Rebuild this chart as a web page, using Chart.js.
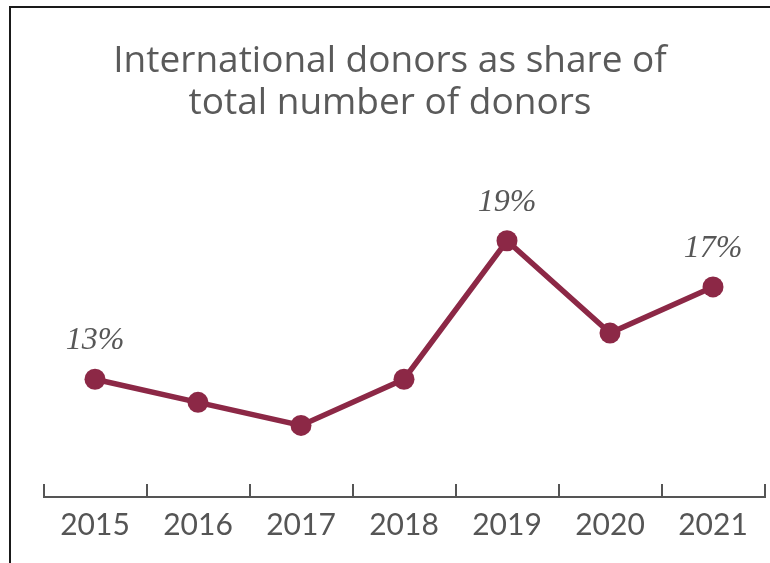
<!DOCTYPE html>
<html>
<head>
<meta charset="utf-8">
<script src="https://cdn.jsdelivr.net/npm/chart.js@4/dist/chart.umd.min.js"></script>
<style>
  html, body { margin: 0; padding: 0; background: #fff; overflow: hidden; }
  #wrap { position: relative; width: 770px; height: 563px; }
  #frame { position: absolute; left: 9px; top: 6px; width: 800px; height: 600px;
           border-top: 2px solid #1a1a1a; border-left: 2px solid #1a1a1a; pointer-events: none; }
  canvas { position: absolute; left: 0; top: 0; }
</style>
</head>
<body>
<div id="wrap">
  <canvas id="c" width="770" height="563"></canvas>
  <div id="frame"></div>
</div>
<script>
const years = ['2015', '2016', '2017', '2018', '2019', '2020', '2021'];
const sharePct = [13, 12, 11, 13, 19, 15, 17];
const pointLabels = ['13%', '', '', '', '19%', '', '17%'];
const titleLines = ['International donors as share of', 'total number of donors'];

const labelPlugin = {
  id: 'pointLabels',
  afterDatasetsDraw(chart) {
    const ctx = chart.ctx;
    const meta = chart.getDatasetMeta(0);
    ctx.save();
    ctx.font = 'italic 32px "Liberation Serif", serif';
    ctx.fillStyle = '#575757';
    ctx.textAlign = 'center';
    ctx.textBaseline = 'alphabetic';
    meta.data.forEach((pt, i) => {
      const t = pointLabels[i];
      if (t) ctx.fillText(t, pt.x, pt.y - 30);
    });
    ctx.restore();
  }
};

const titlePlugin = {
  id: 'centeredTitle',
  afterDraw(chart) {
    const ctx = chart.ctx;
    ctx.save();
    ctx.font = '37px "Open Sans", Lato, sans-serif';
    ctx.fillStyle = '#5a5a5a';
    ctx.textAlign = 'center';
    ctx.textBaseline = 'alphabetic';
    titleLines.forEach((line, i) => ctx.fillText(line, 390, 72 + i * 42));
    ctx.restore();
  }
};

new Chart(document.getElementById('c'), {
  type: 'line',
  data: {
    labels: years,
    datasets: [{
      data: sharePct,
      borderColor: '#8C2846',
      backgroundColor: '#8C2846',
      borderWidth: 5.5,
      pointRadius: 10.5,
      pointHoverRadius: 10.5,
      pointBackgroundColor: '#8C2846',
      pointBorderWidth: 0,
      tension: 0,
      clip: false
    }]
  },
  options: {
    responsive: false,
    animation: false,
    events: [],
    layout: { autoPadding: false, padding: { left: 43.5, right: 5.5, top: 171.5, bottom: -3 } },
    plugins: {
      legend: { display: false },
      tooltip: { enabled: false },
      title: { display: false }
    },
    scales: {
      y: { display: false, min: 7.9, max: 22 },
      x: {
        offset: true,
        afterFit(scale) { scale.paddingLeft = 0; scale.paddingRight = 0; },
        grid: { display: true, offset: true, drawOnChartArea: false, drawTicks: true,
                tickLength: -13, color: '#555', lineWidth: 2 },
        border: { display: true, color: '#555', width: 2 },
        ticks: { color: '#555', padding: 23,
                 font: { family: 'Lato, "Open Sans", sans-serif', size: 30 } }
      }
    }
  },
  plugins: [labelPlugin, titlePlugin]
});
</script>
</body>
</html>
